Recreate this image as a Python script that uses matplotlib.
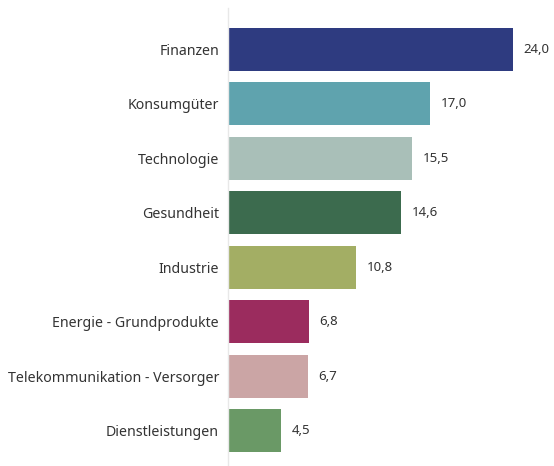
import matplotlib
matplotlib.use("Agg")
import matplotlib.pyplot as plt

# sector weights
sectors = ["Finanzen", "Konsumgüter", "Technologie", "Gesundheit", "Industrie",
           "Energie - Grundprodukte", "Telekommunikation - Versorger", "Dienstleistungen"]
values = [24.0, 17.0, 15.5, 14.6, 10.8, 6.8, 6.7, 4.5]
bar_colors = ["#2E3B80", "#5FA3AE", "#A9BFB8", "#3C6B4E", "#A3AE64",
              "#9B2C5E", "#CBA5A5", "#6A9966"]

plt.rcParams['font.family'] = ['Noto Sans', 'DejaVu Sans']

fig = plt.figure(figsize=(5.54, 4.66), dpi=100)
ax = fig.add_axes([228 / 554, 0, 320 / 554, 458 / 466])

pos = list(range(len(sectors)))
ax.barh(pos, values, height=0.79, color=bar_colors)

for p, v in zip(pos, values):
    ax.text(v + 0.9, p, f"{v:.1f}".replace(".", ","), va="center", ha="left",
            fontsize=9.5, color="#333333")

ax.set_yticks(pos)
ax.set_yticklabels(sectors, fontsize=10.2, color="#333333")
ax.tick_params(axis="y", length=0, pad=6.5)
ax.set_xticks([])
ax.set_xlim(0, 320 / 11.875)
ax.set_ylim(7.65, -0.76)

for s in ["top", "right", "bottom"]:
    ax.spines[s].set_visible(False)
ax.spines["left"].set_color("#e8e8e8")
ax.spines["left"].set_linewidth(1)

fig.savefig("out.png", dpi=100)
